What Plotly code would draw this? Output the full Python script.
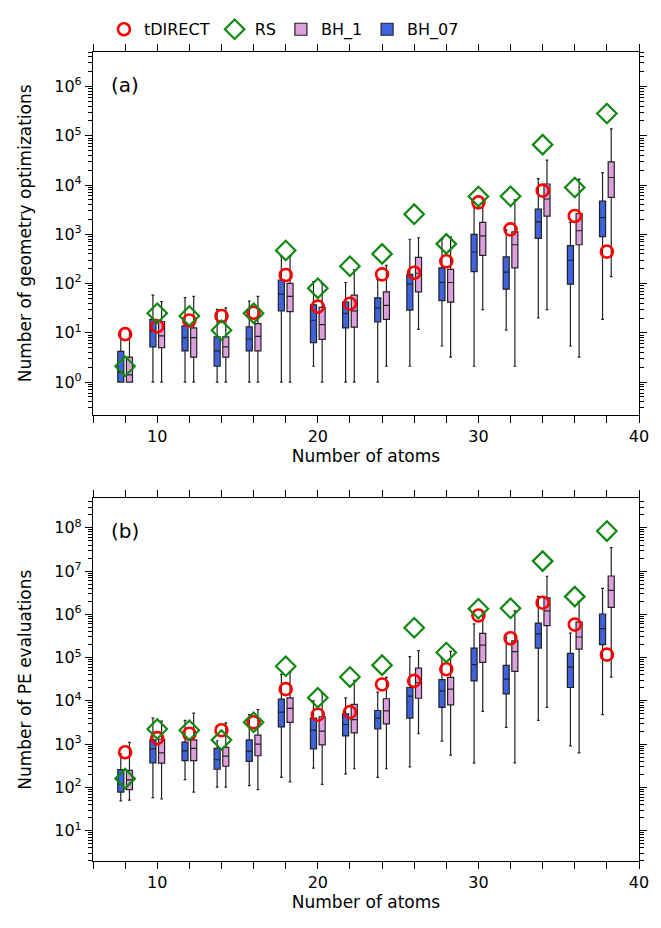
import plotly.graph_objects as go
from plotly.subplots import make_subplots

sizes = [8, 10, 12, 14, 16, 18, 20, 22, 24, 26, 28, 30, 32, 34, 36, 38]

# Panel (a): number of geometry optimizations
bh07_a_lo  = [1, 1, 1, 1, 1, 1, 2.1, 1, 1, 2.1, 5.4, 2.1, 11.3, 20, 5.4, 18.7]
bh07_a_q1  = [1, 5.2, 4.3, 2.1, 4.3, 28, 6.3, 12.6, 16.6, 29, 45, 174, 77, 830, 97, 900]
bh07_a_med = [1.6, 11, 8, 4.3, 7.5, 61, 18, 25, 31.6, 97, 105, 437, 171, 1790, 297, 2180]
bh07_a_q3  = [4.2, 18.7, 13.8, 8.3, 13.2, 118, 37, 42, 51, 154, 209, 1000, 347, 3230, 590, 4700]
bh07_a_hi  = [11, 58, 52, 30, 44, 355, 110, 105, 120, 794, 800, 3550, 1230, 13500, 1740, 17900]

bh1_a_lo  = [1, 1, 1, 1, 1, 1, 1, 1, 2.1, 11.8, 3.2, 29.5, 2.1, 29.5, 3.2, 138]
bh1_a_q1  = [1, 5, 3.2, 3.2, 4.3, 27, 7.4, 13, 18.7, 68, 42, 373, 209, 2330, 613, 5640]
bh1_a_med = [1.4, 8.7, 8, 5.2, 8.5, 55, 14.7, 28, 36, 162, 105, 925, 613, 5200, 1180, 14200]
bh1_a_q3  = [3.2, 17, 12.6, 8.3, 15.4, 101, 33, 58, 68, 340, 194, 1740, 1125, 10500, 2640, 29500]
bh1_a_hi  = [11, 43, 55, 32, 55, 355, 100, 190, 234, 850, 890, 5200, 5000, 32000, 13200, 138000]

tdirect_a = [9.4, 13.5, 17.8, 22, 25.6, 149, 34, 39, 154, 166, 283, 4450, 1260, 7700, 2350, 445]
rs_a      = [2.1, 25, 22, 11.3, 25, 470, 80, 225, 400, 2560, 640, 5850, 5900, 66000, 8900, 283000]

# Panel (b): number of PE evaluations
bh07_b_lo  = [49, 58, 152, 102, 110, 170, 280, 205, 170, 300, 1170, 363, 2450, 3550, 910, 4800]
bh07_b_q1  = [78, 371, 418, 263, 400, 2500, 780, 1550, 2240, 4000, 7100, 29000, 14500, 166000, 20400, 200000]
bh07_b_med = [120, 780, 700, 436, 680, 5500, 2100, 2850, 4000, 12900, 17000, 69000, 32000, 355000, 60000, 470000]
bh07_b_q3  = [257, 1250, 1120, 800, 1250, 11000, 4000, 5000, 6000, 20400, 31000, 166000, 66000, 630000, 126000, 1020000]
bh07_b_hi  = [600, 4000, 3550, 1200, 4800, 41000, 10000, 11800, 16000, 105000, 95000, 600000, 300000, 2600000, 370000, 4000000]

bh1_b_lo  = [51, 54, 78, 102, 89, 134, 118, 270, 270, 1740, 560, 5700, 370, 7100, 630, 35500]
bh1_b_q1  = [89, 363, 418, 309, 540, 3200, 960, 1830, 2950, 11500, 8100, 78000, 48000, 550000, 158000, 1450000]
bh1_b_med = [150, 630, 800, 530, 1000, 6700, 2000, 3700, 5900, 26000, 18700, 195000, 138000, 1200000, 300000, 3600000]
bh1_b_q3  = [247, 1300, 1250, 840, 1620, 11800, 4300, 8300, 11200, 57000, 35000, 363000, 245000, 2400000, 660000, 7700000]
bh1_b_hi  = [1100, 3400, 5200, 3100, 6300, 46000, 15000, 30000, 35000, 145000, 140000, 1100000, 1200000, 7600000, 2000000, 35000000]

tdirect_b = [650, 1380, 1740, 2100, 3200, 18700, 4800, 5500, 24000, 29000, 54000, 940000, 280000, 1860000, 580000, 117000]
rs_b      = [160, 2240, 2100, 1250, 3200, 63000, 11800, 35500, 67000, 490000, 131000, 1350000, 1380000, 17000000, 2570000, 84000000]

x_ticks = [10, 20, 30, 40]
y_ticks_a = [0, 1, 2, 3, 4, 5, 6]
y_ticks_b = [1, 2, 3, 4, 5, 6, 7, 8]
minor_digits = [2, 3, 4, 5, 6, 7, 8, 9]

y_range_a = [-0.66, 6.7]
y_range_b = [0.3, 8.68]

BLUE = "#3f63dd"
PINK = "#dda0dd"
FONT = "DejaVu Sans"

fig = make_subplots(rows=2, cols=1, vertical_spacing=85 / 821)

panels = [
    (1, (bh07_a_lo, bh07_a_q1, bh07_a_med, bh07_a_q3, bh07_a_hi),
        (bh1_a_lo, bh1_a_q1, bh1_a_med, bh1_a_q3, bh1_a_hi), tdirect_a, rs_a),
    (2, (bh07_b_lo, bh07_b_q1, bh07_b_med, bh07_b_q3, bh07_b_hi),
        (bh1_b_lo, bh1_b_q1, bh1_b_med, bh1_b_q3, bh1_b_hi), tdirect_b, rs_b),
]

for row, b07, b1, td, rs in panels:
    show = row == 1
    for name, stats, color, rank in [("BH_07", b07, BLUE, 4), ("BH_1", b1, PINK, 3)]:
        lo, q1, med, q3, hi = stats
        fig.add_trace(go.Box(
            x=sizes, lowerfence=lo, q1=q1, median=med, q3=q3, upperfence=hi,
            name=name, fillcolor=color, line=dict(color="#222222", width=1.2),
            whiskerwidth=0.45, showlegend=show, legendrank=rank,
            offsetgroup=name, boxpoints=False,
        ), row=row, col=1)
    fig.add_trace(go.Scatter(
        x=sizes, y=td, mode="markers", name="tDIRECT",
        marker=dict(symbol="circle-open", size=12, color="#ff0000",
                    line=dict(width=2.6, color="#ff0000")),
        showlegend=show, legendrank=1,
    ), row=row, col=1)
    fig.add_trace(go.Scatter(
        x=sizes, y=rs, mode="markers", name="RS",
        marker=dict(symbol="diamond-open", size=15, color="#118811",
                    line=dict(width=2.2, color="#118811")),
        showlegend=show, legendrank=2,
    ), row=row, col=1)

xaxis_common = dict(
    range=[6, 40], tickmode="array", tickvals=x_ticks,
    ticks="outside", ticklen=7, tickwidth=1.2, tickcolor="black",
    showline=True, linecolor="black", linewidth=1.2, mirror="allticks",
    showgrid=False, zeroline=False,
    minor=dict(ticks="outside", ticklen=4, tickwidth=1, tickcolor="black",
               dtick=2, tick0=0, showgrid=False),
    tickfont=dict(family=FONT, size=16, color="black"),
    title=dict(text="Number of atoms", font=dict(family=FONT, size=17, color="black"),
               standoff=4),
)
fig.update_xaxes(**xaxis_common)


def minor_vals(exps):
    lo = min(exps) - 1
    hi = max(exps) + 1
    return [d * 10 ** e for e in range(lo, hi + 1) for d in minor_digits]


yaxis_common = dict(
    type="log", ticks="outside", ticklen=7, tickwidth=1.2, tickcolor="black",
    showline=True, linecolor="black", linewidth=1.2, mirror="allticks",
    showgrid=False, zeroline=False,
    tickfont=dict(family=FONT, size=16, color="black"),
)
fig.update_yaxes(**yaxis_common)
fig.update_yaxes(
    range=y_range_a, tickmode="array",
    tickvals=[10 ** e for e in y_ticks_a],
    ticktext=["10<sup>%d</sup>" % e for e in y_ticks_a],
    title=dict(text="Number of geometry optimizations",
               font=dict(family=FONT, size=17, color="black"), standoff=18),
    row=1, col=1)
fig.update_yaxes(
    range=y_range_b, tickmode="array",
    tickvals=[10 ** e for e in y_ticks_b],
    ticktext=["10<sup>%d</sup>" % e for e in y_ticks_b],
    title=dict(text="Number of PE evaluations",
               font=dict(family=FONT, size=17, color="black"), standoff=18),
    row=2, col=1)

# overlay axes carrying the log minor ticks (both sides)
dom_a = fig.layout.yaxis.domain
dom_b = fig.layout.yaxis2.domain
for key, yref, anchor, over, rng, exps, dom, xs, ys in [
    ("yaxis3", "y3", "x", "y", y_range_a, y_ticks_a, dom_a, sizes, tdirect_a),
    ("yaxis4", "y4", "x2", "y2", y_range_b, y_ticks_b, dom_b, sizes, tdirect_b),
]:
    fig.layout[key] = dict(
        type="log", range=rng, overlaying=over, anchor=anchor, domain=dom,
        side="left",
        tickmode="array", tickvals=minor_vals(exps), showticklabels=False,
        ticks="outside", ticklen=3.5, tickwidth=1, tickcolor="black",
        showline=True, linecolor="black", linewidth=1.2,
        mirror="allticks", showgrid=False, zeroline=False,
    )
    fig.add_trace(go.Scatter(
        x=xs, y=ys, xaxis=anchor, yaxis=yref, mode="markers",
        marker=dict(opacity=0), showlegend=False, hoverinfo="skip",
    ))

fig.add_annotation(text="(a)", x=0.03, y=0.91, xref="x domain", yref="y domain",
                   xanchor="left", yanchor="middle", showarrow=False,
                   font=dict(family=FONT, size=20, color="black"))
fig.add_annotation(text="(b)", x=0.03, y=0.91, xref="x2 domain", yref="y2 domain",
                   xanchor="left", yanchor="middle", showarrow=False,
                   font=dict(family=FONT, size=20, color="black"))

fig.update_layout(
    width=661, height=928,
    margin=dict(l=93, r=13, t=40, b=67),
    plot_bgcolor="white", paper_bgcolor="white",
    boxmode="group", boxgap=0.46, boxgroupgap=0.3,
    font=dict(family=FONT, size=15, color="black"),
    legend=dict(orientation="h", x=0.02, y=1.028, xanchor="left", yanchor="middle",
                font=dict(family=FONT, size=16, color="black"),
                bgcolor="rgba(0,0,0,0)", itemwidth=30, tracegroupgap=0),
)

fig.write_html("out.html")
